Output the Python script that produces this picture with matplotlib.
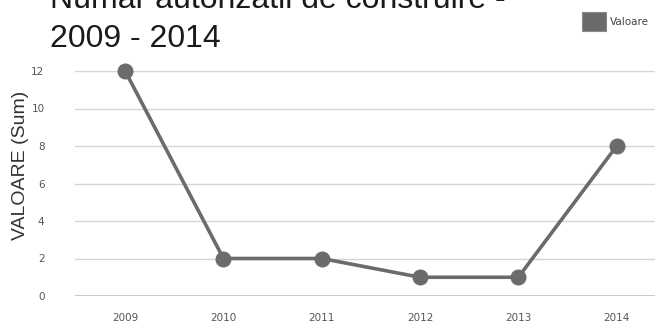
import numpy as np
import matplotlib
matplotlib.use("Agg")
import matplotlib.pyplot as plt
from matplotlib.patches import Rectangle

years = ["2009", "2010", "2011", "2012", "2013", "2014"]
valoare = [12, 2, 2, 1, 1, 8]
yticks = [0, 2, 4, 6, 8, 10, 12]

C_LINE = "#6b6b6b"
C_GRID = "#d4d4d4"
C_TXT = "#555555"

fig = plt.figure(figsize=(6.63, 3.27), dpi=100)
W, H = 663, 327
ax = fig.add_axes([75 / W, 1 - 296 / H, 580 / W, 225 / H])

x = np.arange(len(years))
ax.plot(x, valoare, color=C_LINE, lw=2.6, marker="o", ms=10.5,
        mfc=C_LINE, mec=C_LINE, clip_on=False, zorder=3)

ax.set_xlim(-0.51, len(years) - 1 + 0.39)
ax.set_ylim(0, 12)
ax.set_yticks(yticks)
ax.set_yticklabels([str(v) for v in yticks], fontsize=7.5, color=C_TXT)
ax.set_xticks(x)
ax.set_xticklabels(years, fontsize=7.5, color=C_TXT)
ax.tick_params(length=0)
ax.tick_params(axis="y", pad=22)
ax.tick_params(axis="x", pad=12)
ax.grid(axis="y", color=C_GRID, lw=1)
ax.axhline(0, color="#bdbdbd", lw=1.2, zorder=1)
for s in ax.spines.values():
    s.set_visible(False)

# y label sits a bit above the axis centre in the reference
fig.text(21 / W, 1 - 165 / H, "VALOARE (Sum)", fontsize=14, color="#333333",
         family="Liberation Sans", rotation=90, ha="center", va="center")

# title: first line is cut by the top edge in the reference
fig.text(50 / W, 1 - 47 / H, "Numar autorizatii de construire -\n2009 - 2014",
         fontsize=23, family="Liberation Sans", color="#1a1a1a",
         ha="left", va="baseline", linespacing=1.38)

fig.patches.append(Rectangle((582 / W, 1 - 31 / H), 24 / W, 19 / H,
                             transform=fig.transFigure, facecolor=C_LINE,
                             edgecolor="#8a8a8a", lw=0.8))
fig.text(610 / W, 1 - 22 / H, "Valoare", fontsize=7.5, color="#444444",
         ha="left", va="center")

fig.savefig("out.png", dpi=100)
